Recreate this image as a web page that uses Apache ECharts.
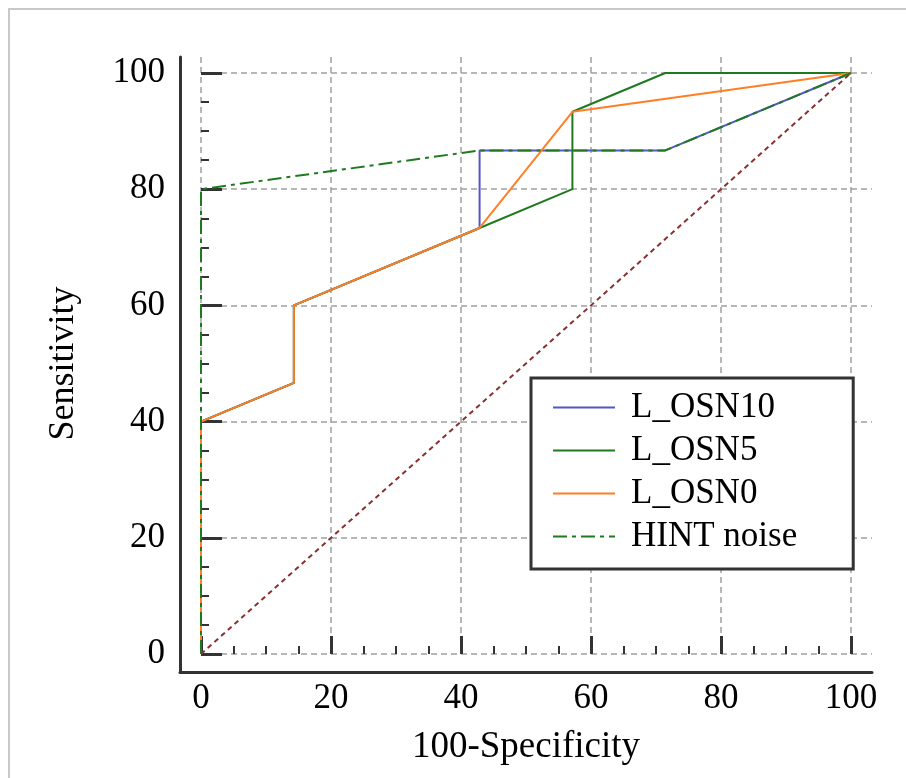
<!DOCTYPE html>
<html><head><meta charset="utf-8">
<script src="https://cdn.jsdelivr.net/npm/echarts@6/dist/echarts.min.js"></script>
<style>html,body{margin:0;padding:0;background:#fff}#c{width:906px;height:778px}</style>
</head><body><div id="c"></div>
<script>
// ---- data ----
const legendNames = ['L_OSN10', 'L_OSN5', 'L_OSN0', 'HINT noise'];
const fprOSN10 = [0, 0, 14.29, 14.29, 42.86, 42.86, 71.43, 100];
const tprOSN10 = [0, 40, 46.67, 60, 73.33, 86.67, 86.67, 100];
const fprOSN5 = [0, 0, 14.29, 14.29, 42.86, 57.14, 57.14, 71.43, 100];
const tprOSN5 = [0, 40, 46.67, 60, 73.33, 80, 93.33, 100, 100];
const fprOSN0 = [0, 0, 14.29, 14.29, 42.86, 57.14, 100];
const tprOSN0 = [0, 40, 46.67, 60, 73.33, 93.33, 100];
const fprHINT = [0, 0, 42.86, 71.43, 100];
const tprHINT = [0, 80, 86.67, 86.67, 100];
const fprDiag = [0, 100];
const tprDiag = [0, 100];
const axisMin = 0, axisMax = 100, tickStep = 20;

const pairs = (xs, ys) => xs.map((x, i) => [x, ys[i]]);
const FONT = 'Liberation Serif';
const chart = echarts.init(document.getElementById('c'), null, {renderer: 'canvas'});

function lineSeries(name, xs, ys, color, type) {
  return {
    name: name, type: 'line', xAxisIndex: 0, yAxisIndex: 0,
    data: pairs(xs, ys), symbol: 'none', showSymbol: false, clip: false, animation: false,
    lineStyle: {color: color, width: 2, type: type || 'solid'},
    itemStyle: {color: color}
  };
}

const gridStyle = {color: '#a0a0a0', width: 1.5, type: [6, 4]};

chart.setOption({
  backgroundColor: '#fff',
  animation: false,
  graphic: [{
    type: 'rect', silent: true, z: -10,
    shape: {x: 9, y: 9, width: 1000, height: 1000},
    style: {fill: 'none', stroke: '#c8c8c8', lineWidth: 2}
  }],
  grid: [
    {left: 201, right: 55, top: 73, bottom: 124},
    {left: 201, right: 34, top: 57, bottom: 124},
    {left: 180, right: 34, top: 57, bottom: 106}
  ],
  xAxis: [
    {
      type: 'value', gridIndex: 0, min: axisMin, max: axisMax, interval: tickStep,
      offset: 18,
      name: '100-Specificity', nameLocation: 'middle', nameGap: 57,
      nameTextStyle: {fontFamily: FONT, fontSize: 37, color: '#000'},
      axisLine: {show: false},
      axisTick: {show: true, inside: true, length: 18, lineStyle: {color: '#333', width: 3}},
      minorTick: {show: true, splitNumber: 4, length: 8, lineStyle: {color: '#333', width: 2}},
      axisLabel: {fontFamily: FONT, fontSize: 35, color: '#000', margin: 9},
      splitLine: {show: false}
    },
    {
      type: 'value', gridIndex: 1, min: 0, max: 103.2, interval: tickStep,
      axisLine: {show: false}, axisTick: {show: false}, axisLabel: {show: false},
      splitLine: {show: true, showMaxLine: false, lineStyle: gridStyle}
    },
    {
      type: 'value', gridIndex: 2, min: 0, max: 1,
      axisLine: {show: true, onZero: false, lineStyle: {color: '#333', width: 3}},
      axisTick: {show: false}, axisLabel: {show: false}, splitLine: {show: false}
    }
  ],
  yAxis: [
    {
      type: 'value', gridIndex: 0, min: axisMin, max: axisMax, interval: tickStep,
      offset: 21,
      name: 'Sensitivity', nameLocation: 'middle', nameGap: 98,
      nameTextStyle: {fontFamily: FONT, fontSize: 36, color: '#000'},
      axisLine: {show: false},
      axisTick: {show: true, inside: true, length: 21, lineStyle: {color: '#333', width: 3}},
      minorTick: {show: true, splitNumber: 4, length: 8, lineStyle: {color: '#333', width: 2}},
      axisLabel: {fontFamily: FONT, fontSize: 35, color: '#000', margin: 15},
      splitLine: {show: false}
    },
    {
      type: 'value', gridIndex: 1, min: 0, max: 102.75, interval: tickStep,
      axisLine: {show: false}, axisTick: {show: false}, axisLabel: {show: false},
      splitLine: {show: true, showMaxLine: false, lineStyle: gridStyle}
    },
    {
      type: 'value', gridIndex: 2, min: 0, max: 1,
      axisLine: {show: true, onZero: false, lineStyle: {color: '#333', width: 3}},
      axisTick: {show: false}, axisLabel: {show: false}, splitLine: {show: false}
    }
  ],
  legend: {
    data: legendNames,
    orient: 'vertical',
    left: 531, top: 378,
    padding: [12, 56, 15, 21],
    itemGap: 8, itemWidth: 62, itemHeight: 14,
    itemStyle: {opacity: 0},
    backgroundColor: '#fff',
    borderColor: '#333', borderWidth: 3,
    textStyle: {fontFamily: FONT, fontSize: 35, color: '#000', lineHeight: 32, padding: [0, 0, 0, 11]}
  },
  series: [
    lineSeries('diag', fprDiag, tprDiag, '#8b3030', [5, 4]),
    lineSeries('L_OSN10', fprOSN10, tprOSN10, '#5555c4'),
    lineSeries('L_OSN5', fprOSN5, tprOSN5, '#1f7a1f'),
    lineSeries('L_OSN0', fprOSN0, tprOSN0, '#ff7f27'),
    lineSeries('HINT noise', fprHINT, tprHINT, '#1f7a1f', [14, 5, 4, 5])
  ]
});
</script></body></html>
